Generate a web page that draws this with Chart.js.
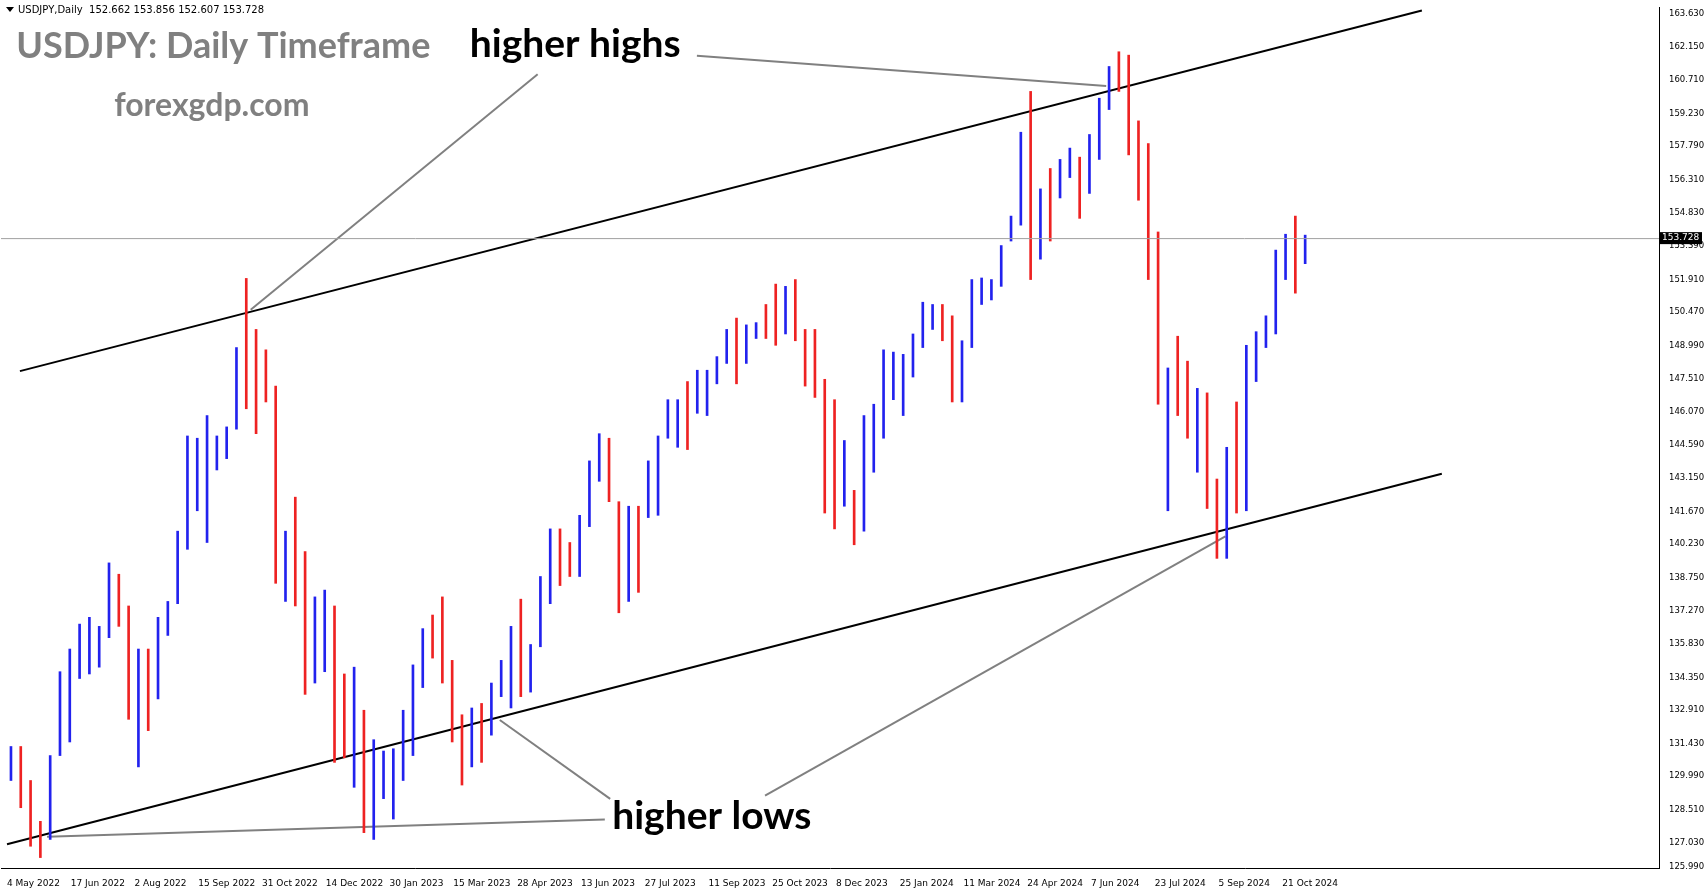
<!DOCTYPE html>
<html>
<head>
<meta charset="utf-8">
<script src="https://cdn.jsdelivr.net/npm/chart.js@4.4.1/dist/chart.umd.min.js"></script>
<style>
  html, body { margin: 0; padding: 0; background: #fff; }
  #wrap { width: 1705px; height: 888px; }
</style>
</head>
<body>
<div id="wrap"><canvas id="usdjpy-chart"></canvas></div>
<script>
// weekly bars from 2 May 2022 (low, high, close)
const weekLow = [129.8,128.6,126.9,126.4,127.2,130.9,131.5,134.3,134.5,134.8,136.1,136.6,132.5,130.4,132.0,133.4,136.2,137.6,140.0,141.7,140.3,143.5,144.0,145.3,146.2,145.1,146.5,138.5,137.7,137.5,133.6,134.1,134.6,130.6,130.8,129.5,127.5,127.2,129.0,128.1,129.8,130.9,133.9,135.2,134.1,131.5,129.6,130.4,130.6,131.8,133.5,133.0,133.5,133.7,135.7,137.6,138.4,138.8,138.8,141.0,143.0,142.1,137.2,137.7,138.1,141.4,141.5,144.9,144.5,144.4,146.0,145.9,147.3,148.2,147.3,148.2,149.3,149.3,149.0,149.5,149.2,147.2,146.7,141.6,140.9,141.9,140.2,140.8,143.4,144.9,146.6,145.9,147.6,148.9,149.7,149.2,146.5,146.5,148.9,150.8,151.0,151.6,153.6,154.3,151.9,152.8,153.6,155.5,156.4,154.6,155.7,157.2,159.4,160.2,157.4,155.4,151.9,146.4,141.7,145.9,144.9,143.4,141.8,139.6,139.6,141.6,141.7,147.4,148.9,149.5,151.9,151.3,152.6];
const weekHigh = [131.3,131.3,129.8,128.0,130.9,134.6,135.6,136.7,137.0,136.6,139.4,138.9,137.5,135.6,135.6,137.0,137.7,140.8,145.0,144.9,145.9,145.0,145.4,148.9,151.95,149.7,148.8,147.2,140.8,142.3,139.9,137.9,138.2,137.5,134.5,134.8,132.9,131.6,131.1,131.2,132.9,134.9,136.5,137.1,137.9,135.1,132.7,133.0,133.2,134.1,135.1,136.6,137.8,135.8,138.8,140.9,140.9,140.3,141.5,143.9,145.1,144.9,142.1,141.9,141.9,143.9,145.0,146.6,146.6,147.4,147.9,147.9,148.5,149.7,150.2,149.9,150.0,150.8,151.7,151.6,151.9,149.7,149.7,147.5,146.6,144.8,142.6,145.9,146.4,148.8,148.7,148.6,149.5,150.9,150.8,150.8,150.3,149.2,151.9,151.97,151.9,153.4,154.7,158.4,160.2,155.9,156.8,157.2,157.7,157.3,158.3,159.9,161.3,161.95,161.8,158.9,157.9,154.0,148.0,149.4,148.3,147.1,146.9,143.1,144.5,146.5,149.0,149.6,150.3,153.2,153.9,154.7,153.86];
const weekClose = [130.5,129.2,127.9,127.1,130.9,134.4,135.0,135.2,135.2,136.1,138.5,136.1,133.3,135.0,133.4,137.0,137.6,140.2,142.6,142.9,143.4,144.7,145.3,148.7,147.6,147.5,146.6,138.8,140.4,138.3,134.3,136.6,136.7,132.9,131.1,132.1,127.9,129.6,129.9,131.2,131.4,134.1,136.4,135.8,135.0,131.8,130.7,132.8,132.2,133.8,134.1,136.3,134.8,135.7,137.9,140.6,139.9,139.4,141.8,143.7,144.3,142.1,138.8,141.8,141.2,141.8,144.9,145.4,146.4,146.2,147.8,147.8,148.4,149.4,149.3,149.6,149.8,149.7,149.4,151.5,149.6,149.4,146.8,144.9,142.2,142.4,141.0,144.6,144.9,148.1,148.2,148.4,149.3,150.2,150.5,150.1,147.0,149.0,151.4,151.4,151.6,153.3,154.6,158.3,153.0,155.8,155.7,157.0,157.3,156.8,157.4,159.8,160.9,160.7,157.9,157.5,153.8,146.5,147.7,147.5,144.5,146.2,142.3,140.9,143.9,142.2,148.7,149.2,149.5,152.3,152.9,152.6,153.73];
const firstOpen = 130.2;

const dateLabels = ['4 May 2022','17 Jun 2022','2 Aug 2022','15 Sep 2022','31 Oct 2022','14 Dec 2022','30 Jan 2023','15 Mar 2023','28 Apr 2023','13 Jun 2023','27 Jul 2023','11 Sep 2023','25 Oct 2023','8 Dec 2023','25 Jan 2024','11 Mar 2024','24 Apr 2024','7 Jun 2024','23 Jul 2024','5 Sep 2024','21 Oct 2024'];
const priceTicks = [125.990,127.030,128.510,129.990,131.430,132.910,134.350,135.830,137.270,138.750,140.230,141.670,143.150,144.590,146.070,147.510,148.990,150.470,151.910,153.390,154.830,156.310,157.790,159.230,160.710,162.150,163.630];
const lastPrice = 153.728;

// channel and annotation lines, [day, price]
const upperChannel = [[6.5, 147.86], [710, 163.77]];
const lowerChannel = [[0, 126.99], [720, 143.33]];
const pointerLines = [
  [[122.3, 150.57], [266.3, 160.96]],
  [[346.2, 161.77], [551.6, 160.44]],
  [[247.3, 132.47], [302.7, 128.99]],
  [[380.4, 129.13], [611.4, 140.57]],
  [[20.1, 127.32], [300, 128.08]],
];

const DAYS_PER_WEEK = 4.92;
const bars = weekLow.map((lo, i) => ({ x: i * DAYS_PER_WEEK + 2, y: [lo, weekHigh[i]] }));
const barColors = weekClose.map((c, i) => c >= (i ? weekClose[i - 1] : firstOpen) ? '#2222ee' : '#ee2222');

const toXY = (seg) => seg.map(p => ({ x: p[0], y: p[1] }));
const lineSet = (seg, color, width) => ({
  type: 'line', data: toXY(seg), borderColor: color, borderWidth: width,
  pointRadius: 0, fill: false, tension: 0,
});

const S = 1705 / 1568;

const textPlugin = {
  id: 'texts',
  afterDraw(chart) {
    const c = chart.ctx;
    const a = chart.chartArea;
    const ys = chart.scales.y;
    c.save();
    // last price line + tag
    const py = ys.getPixelForValue(lastPrice);
    c.strokeStyle = '#a0a0a0';
    c.lineWidth = 1;
    c.beginPath(); c.moveTo(a.left, py + 0.5); c.lineTo(a.right, py + 0.5); c.stroke();
    c.fillStyle = '#000';
    c.fillRect(a.right + 1, py - 6, 42, 12);
    c.fillStyle = '#fff';
    c.font = '9px "DejaVu Sans"';
    c.textBaseline = 'middle';
    c.fillText(lastPrice.toFixed(3), a.right + 3, py);

    c.textBaseline = 'alphabetic';
    c.fillStyle = '#000';
    c.beginPath(); c.moveTo(6, 7); c.lineTo(14, 7); c.lineTo(10, 12); c.fill();
    c.font = '10px "DejaVu Sans"';
    c.fillText('USDJPY,Daily  152.662 153.856 152.607 153.728', 18, 13);

    c.fillStyle = '#808080';
    c.font = 'bold ' + Math.round(33 * S) + 'px Lato';
    c.fillText('USDJPY: Daily Timeframe', 15 * S, 53 * S);
    c.font = 'bold ' + Math.round(29 * S) + 'px Lato';
    c.fillText('forexgdp.com', 105 * S, 107 * S);
    c.fillStyle = '#000';
    c.font = 'bold ' + Math.round(36 * S) + 'px Lato';
    c.fillText('higher highs', 432 * S, 52 * S);
    c.fillText('higher lows', 563 * S, 762 * S);
    c.restore();
  }
};

new Chart(document.getElementById('usdjpy-chart'), {
  type: 'bar',
  data: {
    datasets: [
      {
        type: 'bar', data: bars, backgroundColor: barColors,
        barThickness: 2, grouped: false,
      },
      lineSet(upperChannel, '#000', 2),
      lineSet(lowerChannel, '#000', 2),
      ...pointerLines.map(seg => lineSet(seg, '#808080', 2)),
    ],
  },
  options: {
    responsive: true,
    maintainAspectRatio: false,
    animation: false,
    layout: { padding: { top: 1, left: 1 } },
    plugins: { legend: { display: false }, tooltip: { enabled: false } },
    scales: {
      x: {
        type: 'linear', min: -3, max: 829, offset: false,
        grid: { display: false, drawTicks: true },
        border: { color: '#000' },
        afterBuildTicks: (s) => { s.ticks = dateLabels.map((t, i) => ({ value: i * 32 })); },
        afterFit: (s) => { s.height = 20; },
        ticks: {
          autoSkip: false, maxRotation: 0, align: 'start', padding: 2,
          color: '#000', font: { family: 'DejaVu Sans', size: 9 },
          callback: (v) => dateLabels[Math.round(v / 32)],
        },
      },
      y: {
        position: 'right', min: 125.94, max: 163.92,
        grid: { display: false },
        border: { color: '#000' },
        afterBuildTicks: (s) => { s.ticks = priceTicks.map(v => ({ value: v })); },
        afterFit: (s) => { s.width = 46; },
        ticks: {
          autoSkip: false, padding: 2, color: '#000',
          font: { family: 'DejaVu Sans', size: 8.5 },
          callback: (v) => v.toFixed(3),
        },
      },
    },
  },
  plugins: [textPlugin],
});
</script>
</body>
</html>
